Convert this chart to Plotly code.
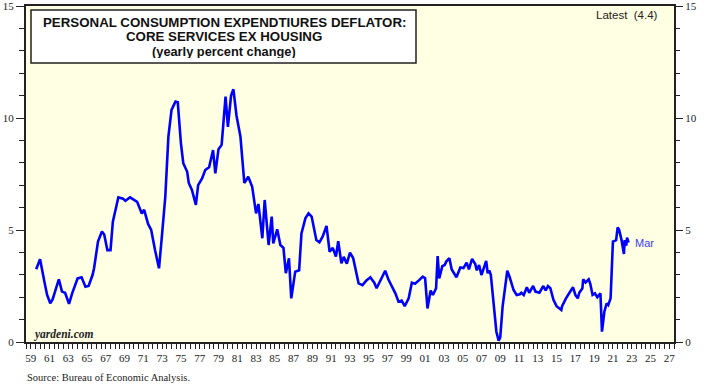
import plotly.graph_objects as go

# ---- data (month, yearly % change) ----
dates = [
    "1960-02", "1960-07", "1961-01", "1961-04", "1961-08", "1961-11", "1962-07", "1962-11",
    "1963-03", "1963-08", "1963-12", "1964-07", "1964-12", "1965-05", "1965-09", "1966-02",
    "1966-04", "1966-09", "1967-02", "1967-05", "1967-09", "1968-01", "1968-04", "1968-11",
    "1969-05", "1969-08", "1970-02", "1970-11", "1971-05", "1971-08", "1972-01", "1972-05",
    "1972-10", "1973-03", "1973-07", "1973-11", "1974-03", "1974-07", "1974-12", "1975-03",
    "1975-07", "1975-10", "1976-03", "1976-05", "1976-09", "1977-02", "1977-05", "1977-10",
    "1978-02", "1978-07", "1978-12", "1979-03", "1979-07", "1979-11", "1980-04", "1980-07",
    "1980-11", "1981-02", "1981-06", "1981-11", "1982-04", "1982-09", "1983-02", "1983-07",
    "1983-10", "1984-03", "1984-06", "1984-11", "1985-03", "1985-05", "1985-10", "1986-02",
    "1986-06", "1986-09", "1987-01", "1987-04", "1987-09", "1988-02", "1988-05", "1988-10",
    "1989-02", "1989-06", "1989-12", "1990-04", "1990-08", "1991-01", "1991-05", "1991-09",
    "1992-01", "1992-04", "1992-08", "1992-11", "1993-03", "1993-07", "1993-11", "1994-03",
    "1994-06", "1994-11", "1995-04", "1995-09", "1996-02", "1996-05", "1996-12", "1997-04",
    "1997-08", "1998-01", "1998-05", "1998-09", "1999-01", "1999-05", "1999-10", "2000-02",
    "2000-06", "2000-11", "2001-04", "2001-07", "2001-10", "2002-02", "2002-05", "2002-09",
    "2002-11", "2003-01", "2003-05", "2003-08", "2003-10", "2004-02", "2004-05", "2004-11",
    "2005-04", "2005-08", "2005-12", "2006-03", "2006-07", "2006-11", "2007-01", "2007-04",
    "2007-07", "2007-10", "2008-01", "2008-03", "2008-05", "2008-07", "2008-11", "2009-02",
    "2009-05", "2009-07", "2009-10", "2010-02", "2010-04", "2010-07", "2010-12", "2011-04",
    "2011-08", "2011-10", "2012-01", "2012-05", "2012-08", "2013-01", "2013-04", "2013-09",
    "2014-02", "2014-05", "2014-08", "2014-11", "2015-03", "2015-07", "2016-01", "2016-02",
    "2016-07", "2017-01", "2017-04", "2017-07", "2017-10", "2017-12", "2018-04", "2018-05",
    "2018-08", "2018-12", "2019-02", "2019-05", "2019-08", "2019-11", "2020-01", "2020-03",
    "2020-05", "2020-08", "2020-11", "2021-01", "2021-04", "2021-07", "2021-11", "2022-01",
    "2022-03", "2022-06", "2022-09", "2022-10", "2022-12", "2023-01", "2023-03",
]
values = [
    3.25, 3.69, 2.60, 2.10, 1.73, 1.90, 2.80, 2.25,
    2.20, 1.70, 2.17, 2.84, 2.89, 2.47, 2.50, 2.99,
    3.29, 4.48, 4.93, 4.80, 4.10, 4.10, 5.37, 6.46,
    6.40, 6.30, 6.46, 6.26, 5.74, 5.90, 5.27, 5.00,
    4.08, 3.29, 4.85, 6.49, 9.17, 10.36, 10.73, 10.70,
    8.87, 7.98, 7.60, 7.10, 6.79, 6.12, 7.00, 7.30,
    7.68, 7.80, 8.57, 7.53, 8.60, 8.80, 10.95, 9.60,
    11.00, 11.28, 10.10, 9.17, 7.10, 7.38, 6.93, 5.74,
    6.16, 4.63, 6.34, 4.33, 5.60, 4.40, 5.03, 4.33,
    4.20, 3.07, 3.74, 1.95, 3.14, 3.20, 4.85, 5.52,
    5.74, 5.60, 4.55, 4.45, 4.70, 5.18, 4.03, 4.20,
    3.81, 4.50, 3.51, 3.80, 3.50, 3.99, 3.75, 3.07,
    2.62, 2.54, 2.75, 2.89, 2.65, 2.40, 2.92, 3.18,
    2.80, 2.47, 2.17, 1.80, 1.85, 1.60, 1.95, 2.65,
    2.60, 2.75, 2.92, 2.85, 1.50, 2.30, 2.10, 2.40,
    3.84, 2.84, 3.39, 3.44, 3.59, 3.74, 3.24, 2.89,
    3.33, 3.30, 3.54, 3.24, 3.71, 3.48, 3.20, 3.44,
    2.99, 3.30, 3.62, 3.07, 3.20, 2.99, 1.58, 0.46,
    0.06, 0.20, 1.58, 2.84, 3.18, 2.90, 2.32, 2.10,
    2.13, 2.20, 2.10, 2.44, 2.20, 2.50, 2.25, 2.20,
    2.50, 2.30, 2.50, 2.40, 1.88, 1.60, 1.43, 1.60,
    1.95, 2.29, 2.44, 2.10, 1.95, 2.20, 2.40, 2.80,
    2.66, 2.80, 2.60, 2.10, 2.17, 2.00, 2.10, 2.17,
    0.46, 1.35, 1.73, 1.65, 1.95, 4.48, 4.55, 5.12,
    5.00, 4.55, 3.93, 4.55, 4.30, 4.66, 4.44,
]

year_labels = ["59", "61", "63", "65", "67", "69", "71", "73", "75", "77", "79", "81",
               "83", "85", "87", "89", "91", "93", "95", "97", "99", "01", "03", "05",
               "07", "09", "11", "13", "15", "17", "19", "21", "23", "25", "27"]
label_years = list(range(1959, 2028, 2))
y_ticks = [0, 5, 10, 15]

title_lines = ["PERSONAL CONSUMPTION EXPENDTIURES DEFLATOR:",
               "CORE SERVICES EX HOUSING",
               "(yearly percent change)"]
latest_text = "Latest  (4.4)"
last_label = "Mar"
source_text = "Source: Bureau of Economic Analysis."
brand_text = "yardeni.com"

BLUE = "#0000FF"
SERIF = "Liberation Serif, Times New Roman, serif"
SANS = "Liberation Sans, Arial, sans-serif"

fig = go.Figure()
fig.add_trace(go.Scatter(x=dates, y=values, mode="lines",
                         line=dict(color=BLUE, width=2.6), hoverinfo="skip",
                         showlegend=False))
# invisible copy on the right axis so it is drawn
fig.add_trace(go.Scatter(x=dates, y=values, mode="lines", yaxis="y2",
                         line=dict(color="rgba(0,0,0,0)", width=0), hoverinfo="skip",
                         showlegend=False))

tickvals_x = [f"{y}-07-01" for y in label_years]

fig.update_layout(
    width=709, height=390,
    margin=dict(l=26, r=35, t=6, b=48),
    paper_bgcolor="white",
    plot_bgcolor="#FFFFE3",
    xaxis=dict(
        type="date", automargin=False, ticklabeloverflow="allow",
        range=["1959-01-01", "2028-01-01"],
        tickvals=tickvals_x, ticktext=year_labels,
        ticks="outside", ticklen=5, tickwidth=1, tickcolor="#222",
        minor=dict(dtick="M6", tick0="1959-01-01", ticks="outside", ticklen=5,
                   tickwidth=1, tickcolor="#222"),
        showgrid=False, zeroline=False,
        showline=True, linewidth=2, linecolor="#222", mirror=True,
        tickfont=dict(family=SERIF, size=11, color="#222"),
        fixedrange=True,
    ),
    yaxis=dict(
        range=[0, 15], tickvals=y_ticks, automargin=False, ticklabeloverflow="allow",
        ticks="outside", ticklen=8, tickwidth=1, tickcolor="#222",
        minor=dict(dtick=1, ticks="outside", ticklen=5, tickwidth=1, tickcolor="#222"),
        showgrid=False, zeroline=False,
        showline=True, linewidth=2, linecolor="#222", mirror=True,
        tickfont=dict(family=SERIF, size=11, color="#222"),
        fixedrange=True,
    ),
    yaxis2=dict(
        range=[0, 15], tickvals=y_ticks, overlaying="y", side="right", automargin=False,
        ticklabeloverflow="allow",
        ticks="outside", ticklen=8, tickwidth=1, tickcolor="#222",
        minor=dict(dtick=1, ticks="outside", ticklen=5, tickwidth=1, tickcolor="#222"),
        showgrid=False, zeroline=False, showline=False,
        tickfont=dict(family=SERIF, size=11, color="#222"),
        fixedrange=True,
    ),
)

def px_x(p):
    return (p - 26) / 648.0

def px_y(p):
    return (342 - p) / 336.0

fig.add_shape(type="rect", xref="paper", yref="paper",
              x0=px_x(31), x1=px_x(416), y0=px_y(63), y1=px_y(10),
              fillcolor="white", line=dict(color="#222", width=1.5), layer="above")

for txt, yp, fs in zip(title_lines, [22.5, 36.5, 51.5], [13.3, 13.3, 12.8]):
    fig.add_annotation(text=f"<b>{txt}</b>", xref="paper", yref="paper",
                       x=px_x(224), y=px_y(yp), xanchor="center", yanchor="middle",
                       height=13, valign="middle",
                       showarrow=False, font=dict(family=SANS, size=fs, color="#111"))

fig.add_annotation(text=latest_text, xref="paper", yref="paper",
                   x=px_x(627), y=px_y(15), xanchor="center", yanchor="middle",
                   showarrow=False, font=dict(family=SANS, size=11.5, color="#222"))
fig.add_annotation(text=last_label, xref="paper", yref="paper",
                   x=px_x(633), y=px_y(243), xanchor="left", yanchor="middle",
                   showarrow=False, font=dict(family=SANS, size=11, color="#3A3AFF"))
fig.add_annotation(text=f"<b><i>{brand_text}</i></b>", xref="paper", yref="paper",
                   x=px_x(31), y=px_y(334), xanchor="left", yanchor="middle",
                   showarrow=False, font=dict(family=SERIF, size=11.5, color="#222"))
fig.add_annotation(text=source_text, xref="paper", yref="paper",
                   x=px_x(25), y=px_y(377), xanchor="left", yanchor="middle",
                   showarrow=False, font=dict(family=SERIF, size=10.5, color="#222"))

fig.write_html("out.html", config={"displayModeBar": False},
               post_script="document.body.style.margin='0px';document.body.style.padding='0px';")
